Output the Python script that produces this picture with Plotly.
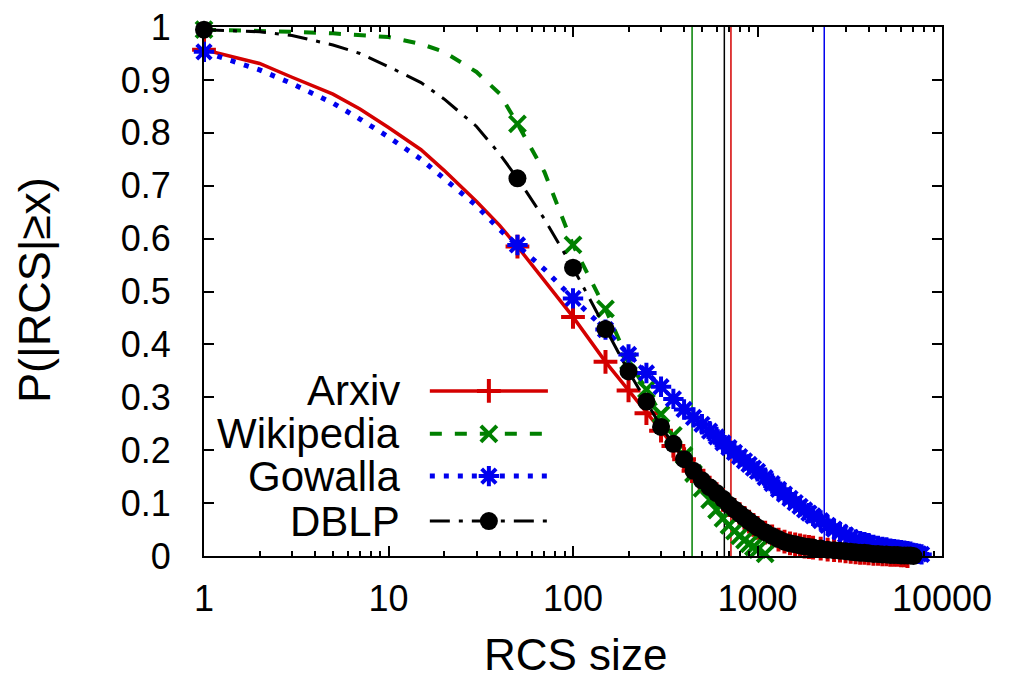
import plotly.graph_objects as go

# x values where the curves only have line samples (no marker)
X_LINE = [2, 3, 5, 7, 10, 15, 20, 30, 40, 70]
ARXIV_LINE = [0.931, 0.905, 0.873, 0.845, 0.810, 0.768, 0.729, 0.670, 0.625, 0.520]
WIKI_LINE = [0.993, 0.991, 0.988, 0.985, 0.981, 0.968, 0.953, 0.915, 0.874, 0.726]
GOWALLA_LINE = [0.919, 0.893, 0.856, 0.826, 0.792, 0.750, 0.714, 0.662, 0.617, 0.542]
DBLP_LINE = [0.991, 0.984, 0.966, 0.950, 0.925, 0.895, 0.864, 0.812, 0.760, 0.637]

# x values carrying a marker
MARK_X = [1,
          50, 100, 150, 200, 250, 300, 350, 400, 450, 500,
          550, 600, 650, 700, 750, 800, 850, 900, 950, 1000,
          1100, 1200, 1300, 1400, 1500, 1600, 1700, 1800, 1900, 2000,
          2200, 2400, 2600, 2800, 3000, 3200, 3400, 3600, 3800, 4000,
          4250, 4500, 4750, 5000, 5250, 5500, 5750, 6000, 6250, 6500,
          6750, 7000, 7250, 7500, 7750]

ARXIV = [0.957,
         0.585, 0.452, 0.367, 0.313, 0.270, 0.237, 0.208, 0.183, 0.161, 0.142,
         0.129, 0.117, 0.106, 0.096, 0.087, 0.079, 0.072, 0.065, 0.059, 0.053,
         0.044, 0.037, 0.031, 0.027, 0.024, 0.022, 0.020, 0.018, 0.017, 0.016,
         0.014, 0.012, 0.011, 0.010, 0.009, 0.008, 0.007, 0.006, 0.006, 0.005,
         0.004, 0.004, 0.003, 0.003, 0.002, 0.002, 0.002, 0.001, 0.001, 0.000]
WIKI = [0.995,
        0.817, 0.588, 0.467, 0.368, 0.315, 0.268, 0.228, 0.190, 0.156, 0.128,
        0.106, 0.087, 0.071, 0.058, 0.047, 0.038, 0.030, 0.023, 0.017, 0.012,
        0.004]
GOWALLA = [0.953,
           0.588, 0.487, 0.428, 0.381, 0.346, 0.320, 0.297, 0.277, 0.262, 0.249,
           0.236, 0.225, 0.214, 0.205, 0.196, 0.188, 0.180, 0.173, 0.166, 0.160,
           0.148, 0.137, 0.126, 0.117, 0.109, 0.101, 0.094, 0.087, 0.081, 0.076,
           0.067, 0.058, 0.051, 0.045, 0.040, 0.035, 0.031, 0.028, 0.026, 0.024,
           0.021, 0.019, 0.017, 0.016, 0.014, 0.013, 0.012, 0.011, 0.010, 0.009,
           0.008, 0.006, 0.005, 0.004, 0.003]
DBLP = [0.995,
        0.714, 0.545, 0.429, 0.349, 0.292, 0.244, 0.212, 0.183, 0.161, 0.143,
        0.130, 0.119, 0.108, 0.097, 0.088, 0.080, 0.073, 0.066, 0.060, 0.054,
        0.045, 0.038, 0.032, 0.027, 0.024, 0.022, 0.020, 0.018, 0.017, 0.016,
        0.014, 0.012, 0.011, 0.010, 0.009, 0.008, 0.007, 0.006, 0.006, 0.005,
        0.004, 0.004, 0.003, 0.003, 0.002, 0.002, 0.002, 0.001, 0.001, 0.001,
        0.001, 0.000]

# vertical reference lines (x position per dataset)
VLINES = [('#008000', 442), ('#000000', 661), ('#d40000', 718), ('#0000ee', 2300)]

X_TICKS = [1, 10, 100, 1000, 10000]
X_MINOR = [k * 10 ** d for d in range(4) for k in range(2, 10)]
Y_TICKS = [0, 0.1, 0.2, 0.3, 0.4, 0.5, 0.6, 0.7, 0.8, 0.9, 1]

FONT = 'Liberation Sans'

SERIES = [
    dict(name='Arxiv', line=ARXIV_LINE, marks=ARXIV, color='#d40000',
         dash='solid', width=3.5, symbol='cross-thin', size=17),
    dict(name='Wikipedia', line=WIKI_LINE, marks=WIKI, color='#008000',
         dash='12px,13px', width=4, symbol='x-thin', size=16),
    dict(name='Gowalla', line=GOWALLA_LINE, marks=GOWALLA, color='#0000ee',
         dash='5px,9px', width=5, symbol='asterisk-open', size=17),
    dict(name='DBLP', line=DBLP_LINE, marks=DBLP, color='#000000',
         dash='20px,9px,4px,9px', width=3, symbol='circle', size=18),
]


def marker_style(s):
    return dict(symbol=s['symbol'], size=s['size'], color=s['color'],
                line=dict(color=s['color'],
                          width=4 if s['symbol'] != 'circle' else 0))


fig = go.Figure()

for s in SERIES:
    mx = MARK_X[:len(s['marks'])]
    pts = sorted(zip(X_LINE + mx, s['line'] + s['marks']))
    fig.add_trace(go.Scatter(
        x=[p[0] for p in pts], y=[p[1] for p in pts], mode='lines',
        line=dict(color=s['color'], width=s['width'], dash=s['dash']),
        showlegend=False, hoverinfo='skip'))
    fig.add_trace(go.Scatter(
        x=mx, y=s['marks'], mode='markers', marker=marker_style(s),
        name=s['name'], cliponaxis=False, showlegend=False))

# hand-made legend (text right-aligned, sample on its right) on a helper axis
LEG_TEXT_X = 0.268
LEG_LINE_X = [0.306, 0.466]
LEG_MARK_X = 0.386
LEG_ROWS = [0.312, 0.231, 0.151, 0.066]

for s, ry in zip(SERIES, LEG_ROWS):
    fig.add_trace(go.Scatter(
        x=LEG_LINE_X, y=[ry, ry], mode='lines', xaxis='x2', yaxis='y2',
        line=dict(color=s['color'], width=s['width'], dash=s['dash']),
        showlegend=False, hoverinfo='skip'))
    fig.add_trace(go.Scatter(
        x=[LEG_MARK_X], y=[ry], mode='markers', xaxis='x2', yaxis='y2',
        marker=marker_style(s), showlegend=False, hoverinfo='skip',
        cliponaxis=False))
    fig.add_annotation(x=LEG_TEXT_X, y=ry, xref='paper', yref='paper',
                       text=s['name'], showarrow=False, xanchor='right',
                       yanchor='middle', font=dict(size=42, color='black'))

for color, xv in VLINES:
    fig.add_shape(type='line', x0=xv, x1=xv, y0=0, y1=1, xref='x', yref='paper',
                  line=dict(color=color, width=1.5), layer='below')

fig.add_annotation(x=0.503, y=-0.187, xref='paper', yref='paper', text='RCS size',
                   showarrow=False, xanchor='center', yanchor='middle',
                   font=dict(size=44, color='black'))
fig.add_annotation(x=-0.229, y=0.503, xref='paper', yref='paper',
                   text='P(|RCS|≥x)', textangle=-90, showarrow=False,
                   xanchor='center', yanchor='middle',
                   font=dict(size=45, color='black'))

fig.update_layout(
    width=1010, height=680,
    margin=dict(l=204, r=68, t=27, b=124),
    paper_bgcolor='white', plot_bgcolor='white',
    font=dict(family=FONT, color='black', size=36),
    showlegend=False,
    xaxis=dict(
        type='log', range=[0, 4], tickvals=X_TICKS,
        ticktext=[str(v) for v in X_TICKS], automargin=False,
        ticks='inside', ticklen=10, tickwidth=2, tickcolor='black',
        showline=True, linewidth=2, linecolor='black', mirror='ticks',
        showgrid=False, zeroline=False, ticklabelstandoff=10,
        minor=dict(tickvals=X_MINOR, ticks='inside', ticklen=5, tickwidth=1.5,
                   tickcolor='black', showgrid=False),
    ),
    yaxis=dict(
        range=[0, 1], tickvals=Y_TICKS, automargin=False,
        ticktext=['0' if v == 0 else ('1' if v == 1 else f'{v:.1f}') for v in Y_TICKS],
        ticks='inside', ticklen=10, tickwidth=2, tickcolor='black',
        showline=True, linewidth=2, linecolor='black', mirror='ticks',
        showgrid=False, zeroline=False, ticklabelstandoff=24,
    ),
    xaxis2=dict(range=[0, 1], overlaying='x', visible=False),
    yaxis2=dict(range=[0, 1], overlaying='y', visible=False),
)

# remove the default page margin so the figure sits at the window's corner
fig.write_html('out.html', config={'displayModeBar': False},
               post_script="document.body.style.margin='0';")
